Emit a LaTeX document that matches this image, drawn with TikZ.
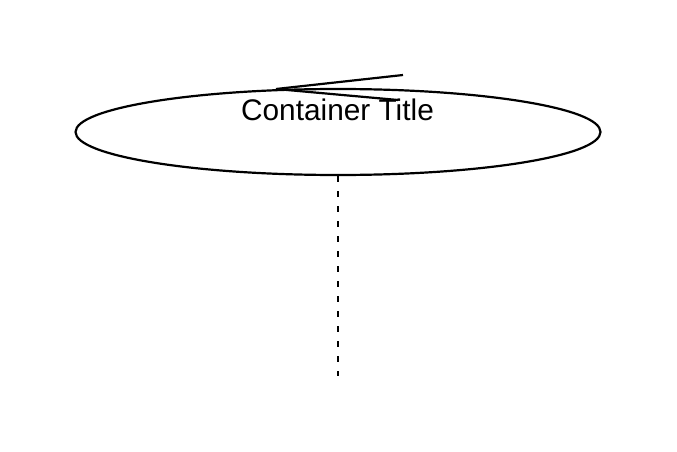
\documentclass[tikz,border=0pt]{standalone}
\usepackage{fontspec}
\setmainfont{Liberation Sans}
\usetikzlibrary{shapes.geometric}
\begin{document}
\begin{tikzpicture}[x=1pt,y=-1pt,
  outline/.style={draw=black,line width=2.2pt},
  lifeline/.style={draw=black,line width=2.2pt,dash pattern=on 6pt off 9pt},
  titletext/.style={font=\fontsize{29.8}{32}\selectfont,inner sep=0pt}]
  \useasboundingbox (0,0) rectangle (677,452);
  % container ellipse and its title
  \node[outline,ellipse,minimum width=525pt,minimum height=86pt,inner sep=0pt] (cont) at (338,132) {};
  \node[titletext] (title) at (337.5,110) {Container Title};
  % open arrowhead on the top of the container
  \coordinate (tip) at (276,89);
  \coordinate (barbA) at (403,75);
  \coordinate (barbB) at (398,100);
  \draw[outline,line join=miter] (barbA) -- (tip) -- (barbB);
  % dashed lifeline below the container
  \coordinate (lifeEnd) at (338,376);
  \draw[lifeline] (cont.south) -- (lifeEnd);
\end{tikzpicture}
\end{document}
